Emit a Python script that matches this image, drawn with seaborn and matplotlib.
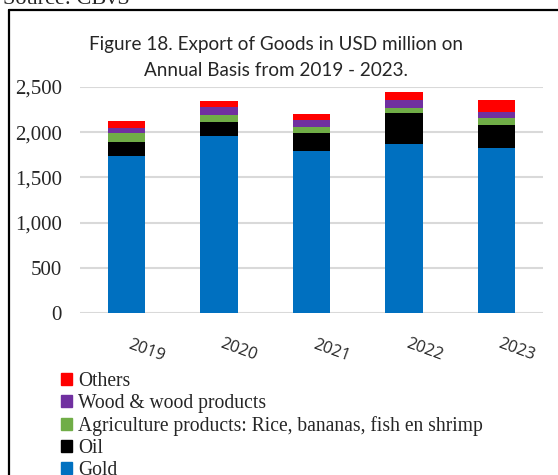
import matplotlib
matplotlib.use("Agg")
import matplotlib.pyplot as plt
import matplotlib.patches as mpatches
import matplotlib.transforms as mtransforms
import numpy as np
import seaborn as sns

sns.set_style("white")

years = ["2019", "2020", "2021", "2022", "2023"]
gold = [1735, 1956, 1790, 1867, 1823]
oil = [162, 154, 202, 346, 258]
agri = [92, 81, 70, 59, 73]
wood = [62, 84, 70, 88, 70]
others = [74, 70, 70, 88, 136]

series = [
    ("Gold", gold, "#0070C0"),
    ("Oil", oil, "#000000"),
    ("Agriculture products: Rice, bananas, fish en shrimp", agri, "#70AD47"),
    ("Wood & wood products", wood, "#7030A0"),
    ("Others", others, "#FF0000"),
]

fig = plt.figure(figsize=(5.58, 4.75), dpi=100)
ax = fig.add_axes([0.1434, 0.341, 0.8297, 0.4758])

# cumulative tops, drawn from the tallest down so each layer shows
cum = np.cumsum([s[1] for s in series], axis=0)
for (name, vals, col), top in reversed(list(zip(series, cum))):
    sns.barplot(x=years, y=top, color=col, width=0.405, saturation=1, ax=ax,
                edgecolor="none", zorder=3)

ax.set_ylim(0, 2500)
ax.set_yticks([0, 500, 1000, 1500, 2000, 2500])
ax.set_yticklabels(["0", "500", "1,000", "1,500", "2,000", "2,500"],
                   fontfamily="Liberation Serif", fontsize=15)
ax.yaxis.grid(True, color="#d9d9d9", linewidth=1.5, zorder=0)
ax.set_axisbelow(True)
for s in ax.spines.values():
    s.set_visible(False)
ax.tick_params(axis="y", length=0, pad=13)
ax.tick_params(axis="x", length=0, pad=16)
ax.set_xlabel("")
ax.set_ylabel("")
ax.set_xticks(range(len(years)))
ax.set_xticklabels(years, rotation=-20, rotation_mode="anchor", ha="center",
                   va="center", fontfamily="Open Sans", fontsize=12)
offset = mtransforms.ScaledTranslation(20 / 100, -15 / 100, fig.dpi_scale_trans)
for lab in ax.get_xticklabels():
    lab.set_transform(lab.get_transform() + offset)

fig.text(0.494, 0.907, "Figure 18. Export of Goods in USD million on",
         ha="center", va="center", fontfamily="Lato", fontsize=13.6)
fig.text(0.494, 0.851, "Annual Basis from 2019 - 2023.",
         ha="center", va="center", fontfamily="Lato", fontsize=13.6)

# outer frame (left and top edges visible)
fig.add_artist(plt.Line2D([9 / 558, 9 / 558], [0, 1 - 10 / 475], color="black", lw=1.6))
fig.add_artist(plt.Line2D([9 / 558, 1], [1 - 10 / 475, 1 - 10 / 475], color="black", lw=1.6))
fig.text(0.005, 1.0, "Source: CBvS", ha="left", va="center",
         fontfamily="Liberation Serif", fontsize=16)

handles = [mpatches.Patch(color=col, label=name) for name, vals, col in reversed(series)]
fig.legend(handles=handles, loc="upper left", bbox_to_anchor=(0.110, 0.217),
           frameon=False, prop={"family": "Liberation Serif", "size": 14.1},
           handlelength=0.56, handleheight=0.56, handletextpad=0.28,
           labelspacing=0.15, borderaxespad=0, borderpad=0)

fig.savefig("out.png", dpi=100)
